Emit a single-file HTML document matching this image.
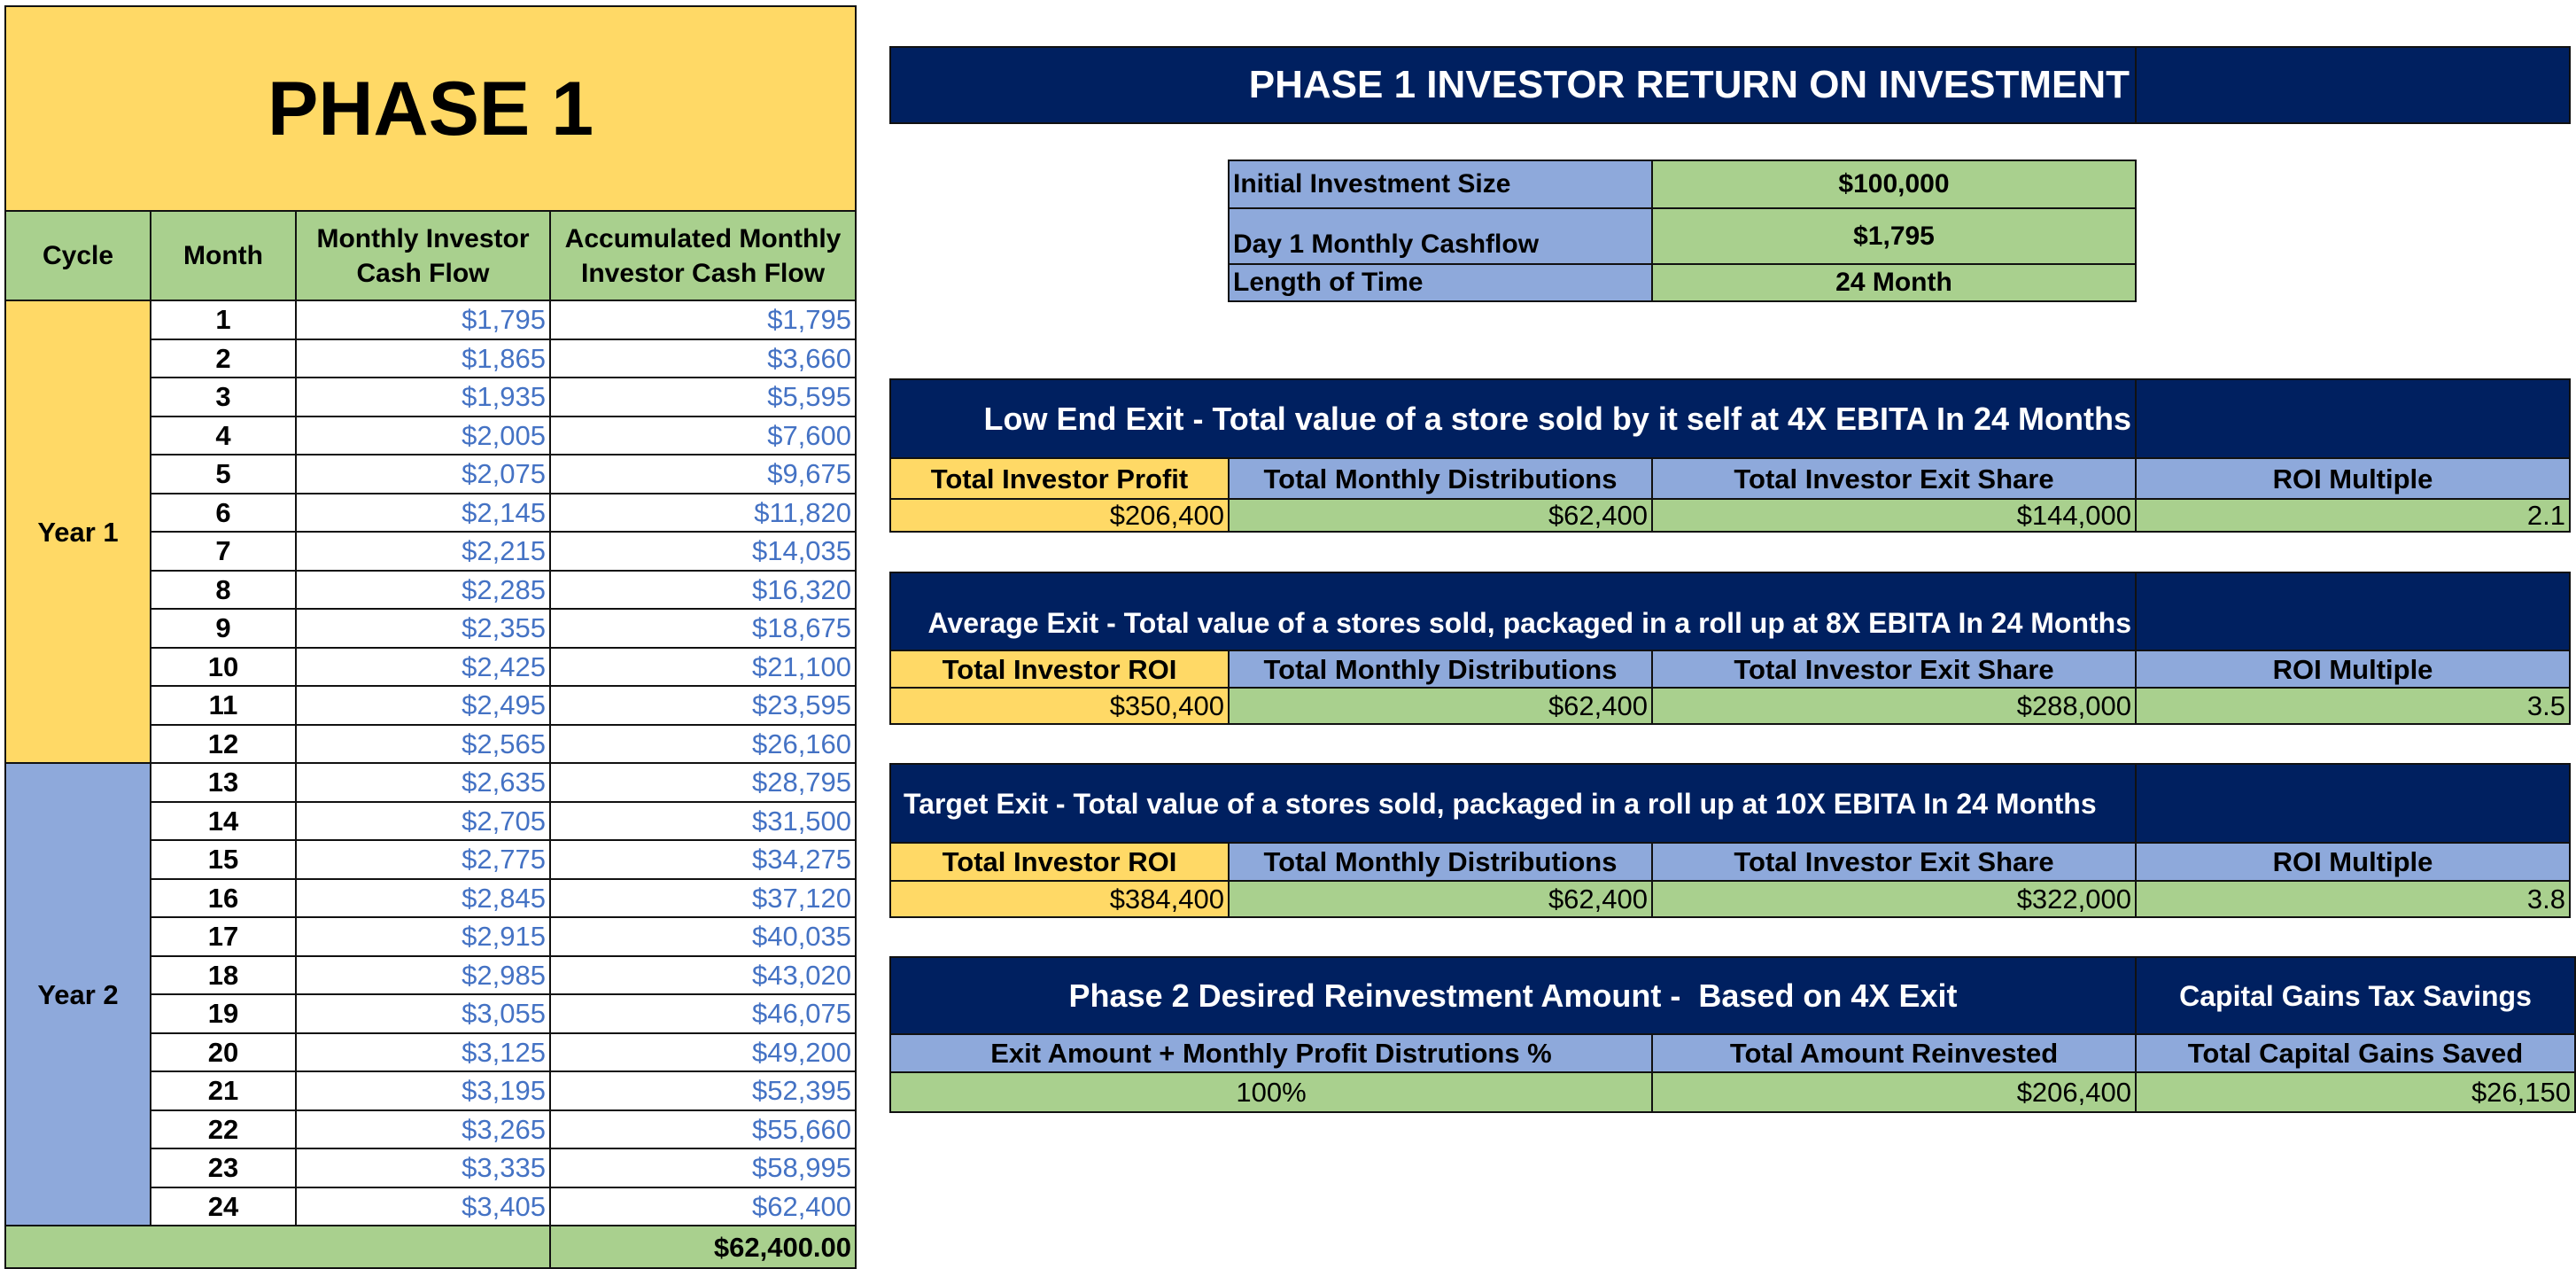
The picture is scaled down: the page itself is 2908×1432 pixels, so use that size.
<!DOCTYPE html>
<html><head><meta charset="utf-8"><style>
*{margin:0;padding:0;box-sizing:border-box}
body{width:2908px;height:1428px;background:#fff;position:relative;overflow:hidden;font-family:"Liberation Sans",sans-serif;font-weight:bold;color:#000}
table{position:absolute;border-collapse:collapse;table-layout:fixed}
td{border:2px solid #111;overflow:hidden;white-space:nowrap;padding:0 4px;font-size:31px;line-height:1}
.y{background:#FFD966}.g{background:#A9D08E}.b{background:#8EA9DB}.n{background:#002060;color:#fff}.w{background:#fff}
.c{text-align:center}.r{text-align:right}.l{text-align:left}
.bl{color:#4472C4;font-weight:normal;font-size:31px}
.nb{font-weight:normal}
#lt td{height:43.5px}
</style></head><body>

<table id="lt" style="left:5px;top:6px;width:960px">
<colgroup><col style="width:164px"><col style="width:164px"><col style="width:287px"><col style="width:345px"></colgroup>
<tr><td colspan="4" class="y c" style="height:231px;font-size:86px">PHASE 1</td></tr>
<tr><td class="g c" style="height:101px;font-size:30px">Cycle</td><td class="g c" style="font-size:30px">Month</td><td class="g c" style="line-height:1.3;font-size:30px;padding:0">Monthly Investor<br>Cash Flow</td><td class="g c" style="line-height:1.3;font-size:30px;padding:0">Accumulated Monthly<br>Investor Cash Flow</td></tr>
<tr><td rowspan="12" class="y c">Year 1</td><td class="w c">1</td><td class="w r bl">$1,795</td><td class="w r bl">$1,795</td></tr>
<tr><td class="w c">2</td><td class="w r bl">$1,865</td><td class="w r bl">$3,660</td></tr>
<tr><td class="w c">3</td><td class="w r bl">$1,935</td><td class="w r bl">$5,595</td></tr>
<tr><td class="w c">4</td><td class="w r bl">$2,005</td><td class="w r bl">$7,600</td></tr>
<tr><td class="w c">5</td><td class="w r bl">$2,075</td><td class="w r bl">$9,675</td></tr>
<tr><td class="w c">6</td><td class="w r bl">$2,145</td><td class="w r bl">$11,820</td></tr>
<tr><td class="w c">7</td><td class="w r bl">$2,215</td><td class="w r bl">$14,035</td></tr>
<tr><td class="w c">8</td><td class="w r bl">$2,285</td><td class="w r bl">$16,320</td></tr>
<tr><td class="w c">9</td><td class="w r bl">$2,355</td><td class="w r bl">$18,675</td></tr>
<tr><td class="w c">10</td><td class="w r bl">$2,425</td><td class="w r bl">$21,100</td></tr>
<tr><td class="w c">11</td><td class="w r bl">$2,495</td><td class="w r bl">$23,595</td></tr>
<tr><td class="w c">12</td><td class="w r bl">$2,565</td><td class="w r bl">$26,160</td></tr>
<tr><td rowspan="12" class="b c">Year 2</td><td class="w c">13</td><td class="w r bl">$2,635</td><td class="w r bl">$28,795</td></tr>
<tr><td class="w c">14</td><td class="w r bl">$2,705</td><td class="w r bl">$31,500</td></tr>
<tr><td class="w c">15</td><td class="w r bl">$2,775</td><td class="w r bl">$34,275</td></tr>
<tr><td class="w c">16</td><td class="w r bl">$2,845</td><td class="w r bl">$37,120</td></tr>
<tr><td class="w c">17</td><td class="w r bl">$2,915</td><td class="w r bl">$40,035</td></tr>
<tr><td class="w c">18</td><td class="w r bl">$2,985</td><td class="w r bl">$43,020</td></tr>
<tr><td class="w c">19</td><td class="w r bl">$3,055</td><td class="w r bl">$46,075</td></tr>
<tr><td class="w c">20</td><td class="w r bl">$3,125</td><td class="w r bl">$49,200</td></tr>
<tr><td class="w c">21</td><td class="w r bl">$3,195</td><td class="w r bl">$52,395</td></tr>
<tr><td class="w c">22</td><td class="w r bl">$3,265</td><td class="w r bl">$55,660</td></tr>
<tr><td class="w c">23</td><td class="w r bl">$3,335</td><td class="w r bl">$58,995</td></tr>
<tr><td class="w c">24</td><td class="w r bl">$3,405</td><td class="w r bl">$62,400</td></tr>
<tr><td colspan="3" class="g" style="height:48px"></td><td class="g r" style="height:48px">$62,400.00</td></tr>
</table>

<table style="left:1004px;top:52px;width:1896px">
<colgroup><col style="width:1406px"><col style="width:490px"></colgroup>
<tr><td class="n r" style="height:86px;font-size:44px;padding-right:6px">PHASE 1 INVESTOR RETURN ON INVESTMENT</td><td class="n"></td></tr>
</table>

<table style="left:1386px;top:180px;width:1024px">
<colgroup><col style="width:478px"><col style="width:546px"></colgroup>
<tr><td class="b l" style="height:54px;font-size:30px">Initial Investment Size</td><td class="g c" style="font-size:30px">$100,000</td></tr>
<tr><td class="b l" style="height:63px;vertical-align:bottom;padding-bottom:6px;font-size:30px">Day 1 Monthly Cashflow</td><td class="g c" style="font-size:30px">$1,795</td></tr>
<tr><td class="b l" style="height:42px;font-size:30px">Length of Time</td><td class="g c" style="font-size:30px">24 Month</td></tr>
</table>

<table style="left:1004px;top:427px;width:1896px">
<colgroup><col style="width:382px"><col style="width:478px"><col style="width:546px"><col style="width:490px"></colgroup>
<tr><td colspan="3" class="n r" style="height:89px;font-size:36px">Low End Exit - Total value of a store sold by it self at 4X EBITA In 24 Months</td><td class="n"></td></tr>
<tr><td class="y c" style="height:46px">Total Investor Profit</td><td class="b c">Total Monthly Distributions</td><td class="b c">Total Investor Exit Share</td><td class="b c">ROI Multiple</td></tr>
<tr><td class="y r nb" style="height:37px">$206,400</td><td class="g r nb">$62,400</td><td class="g r nb">$144,000</td><td class="g r nb">2.1</td></tr>
</table>

<table style="left:1004px;top:645px;width:1896px">
<colgroup><col style="width:382px"><col style="width:478px"><col style="width:546px"><col style="width:490px"></colgroup>
<tr><td colspan="3" class="n r" style="height:88px;vertical-align:bottom;padding-bottom:14px;font-size:32px">Average Exit - Total value of a stores sold, packaged in a roll up at 8X EBITA In 24 Months</td><td class="n"></td></tr>
<tr><td class="y c" style="height:42px">Total Investor ROI</td><td class="b c">Total Monthly Distributions</td><td class="b c">Total Investor Exit Share</td><td class="b c">ROI Multiple</td></tr>
<tr><td class="y r nb" style="height:41px">$350,400</td><td class="g r nb">$62,400</td><td class="g r nb">$288,000</td><td class="g r nb">3.5</td></tr>
</table>

<table style="left:1004px;top:861px;width:1896px">
<colgroup><col style="width:382px"><col style="width:478px"><col style="width:546px"><col style="width:490px"></colgroup>
<tr><td colspan="3" class="n l" style="height:89px;padding-left:14px;font-size:32px">Target Exit - Total value of a stores sold, packaged in a roll up at 10X EBITA In 24 Months</td><td class="n"></td></tr>
<tr><td class="y c" style="height:43px">Total Investor ROI</td><td class="b c">Total Monthly Distributions</td><td class="b c">Total Investor Exit Share</td><td class="b c">ROI Multiple</td></tr>
<tr><td class="y r nb" style="height:41px">$384,400</td><td class="g r nb">$62,400</td><td class="g r nb">$322,000</td><td class="g r nb">3.8</td></tr>
</table>

<table style="left:1004px;top:1079px;width:1902px">
<colgroup><col style="width:860px"><col style="width:546px"><col style="width:496px"></colgroup>
<tr><td colspan="2" class="n c" style="height:87px;font-size:36px">Phase 2 Desired Reinvestment Amount -&nbsp; Based on 4X Exit</td><td class="n c" style="font-size:32px">Capital Gains Tax Savings</td></tr>
<tr><td class="b c" style="height:43px">Exit Amount + Monthly Profit Distrutions %</td><td class="b c">Total Amount Reinvested</td><td class="b c">Total Capital Gains Saved</td></tr>
<tr><td class="g c nb" style="height:45px">100%</td><td class="g r nb">$206,400</td><td class="g r nb">$26,150</td></tr>
</table>

</body></html>
